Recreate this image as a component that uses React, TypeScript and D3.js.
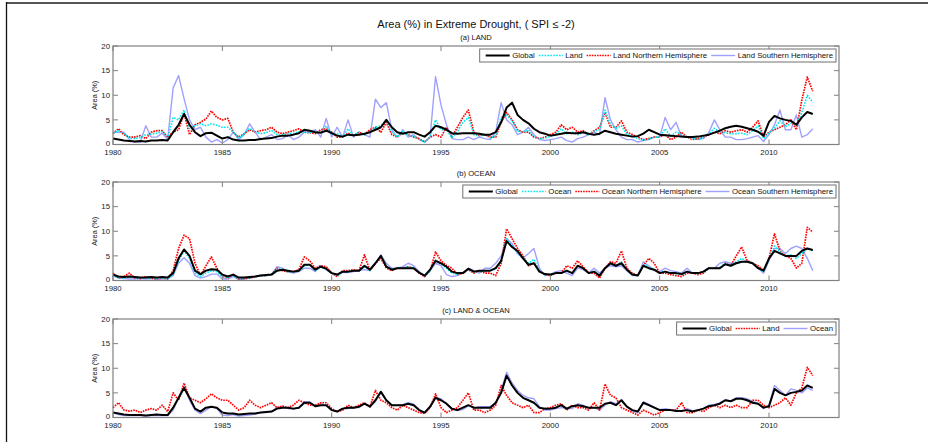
import * as d3 from "d3";
import React, { useEffect, useRef } from "react";

// quarterly samples, 1980.0 .. 2012.0
const startYear = 1980;
const stepsPerYear = 4;
const yearTicks = [1980, 1985, 1990, 1995, 2000, 2005, 2010];
const areaTicks = [0, 5, 10, 15, 20];

// (a) LAND
const landGlobal = [
  1.2, 1.0, 0.8, 0.7, 0.6, 0.7, 0.6, 0.8, 0.8, 0.9, 0.8, 2.5, 4.0, 6.2, 4.0, 2.5,
  1.7, 2.3, 2.4, 1.8, 1.2, 1.5, 1.0, 0.8, 0.8, 0.9, 0.9, 1.1, 1.2, 1.3, 1.6, 1.8,
  1.8, 2.0, 2.3, 3.0, 2.8, 2.5, 2.4, 2.8, 2.3, 1.8, 1.6, 2.0, 1.9, 2.0, 2.2, 2.5,
  3.0, 3.5, 5.0, 3.5, 2.5, 2.2, 2.5, 2.5, 2.0, 1.6, 2.5, 3.8, 3.5, 3.0, 2.3, 2.2,
  2.3, 2.3, 2.3, 2.2, 2.0, 2.0, 2.5, 4.5, 7.5, 8.5, 6.0, 5.0, 4.3, 3.2, 2.5, 2.2,
  1.8, 2.0, 2.2, 2.4, 2.3, 2.3, 2.5, 2.2, 2.0, 2.2, 2.8, 2.5, 2.2, 2.0, 1.8, 1.6,
  1.7, 2.2, 3.0, 2.5, 2.0, 1.9, 1.8, 1.7, 1.6, 1.5, 1.5, 1.6, 1.8, 2.0, 2.4, 2.8,
  3.3, 3.6, 3.8, 3.6, 3.3, 3.0, 2.6, 1.8, 4.6, 5.8, 5.3, 5.0, 4.8, 4.0, 5.5, 6.6,
  6.2,
];
const landAll = [
  2.3, 2.8, 2.2, 1.3, 1.2, 1.4, 2.0, 2.1, 2.3, 2.6, 1.3, 5.5, 5.0, 7.0, 3.2, 3.8,
  4.2, 3.8, 4.2, 3.9, 3.5, 3.5, 2.5, 1.3, 2.1, 3.3, 2.5, 2.2, 2.4, 2.9, 2.0, 1.9,
  2.3, 2.2, 2.6, 2.5, 2.4, 2.5, 2.5, 3.8, 2.1, 2.2, 1.5, 3.2, 1.7, 2.5, 2.0, 2.5,
  3.5, 3.8, 5.0, 2.5, 1.5, 2.7, 1.8, 1.7, 1.1, 0.5, 1.5, 5.0, 3.0, 3.0, 1.4, 2.6,
  4.5, 5.5, 2.0, 1.7, 2.0, 1.3, 1.8, 5.5, 6.0, 4.8, 2.7, 2.5, 3.0, 1.7, 1.1, 1.3,
  1.6, 2.0, 3.2, 2.2, 2.5, 2.0, 2.4, 2.0, 2.7, 3.0, 7.0, 4.0, 3.3, 3.8, 2.0, 1.7,
  1.2, 0.9, 1.1, 1.5, 1.5, 3.2, 1.7, 2.5, 2.1, 1.5, 1.2, 1.1, 1.4, 2.2, 3.3, 2.5,
  2.4, 2.2, 2.2, 2.3, 2.0, 2.8, 3.8, 1.2, 2.3, 3.4, 4.8, 3.6, 4.3, 4.0, 6.5, 10.0,
  8.6,
];
const landNorth = [
  2.2, 3.2, 2.0, 1.5, 1.5, 1.8, 1.2, 2.5, 2.8, 2.8, 1.5, 2.5, 3.0, 6.3, 2.0, 4.0,
  4.5, 5.2, 6.8, 5.5, 5.0, 5.3, 2.5, 1.5, 2.2, 3.0, 2.5, 2.8, 3.0, 3.5, 2.5, 2.2,
  2.5, 2.8, 3.2, 2.5, 2.4, 2.2, 3.0, 3.2, 2.5, 1.5, 1.5, 2.3, 1.8, 2.5, 2.0, 3.0,
  3.5, 2.5, 4.5, 2.0, 1.5, 2.5, 2.0, 1.5, 1.2, 0.5, 1.5, 2.0, 1.5, 3.5, 1.5, 3.5,
  5.5, 7.0, 2.5, 1.8, 2.0, 1.5, 1.5, 4.5, 6.5, 5.0, 3.0, 2.5, 2.5, 1.5, 1.2, 1.5,
  2.0, 2.5, 4.0, 3.0, 3.5, 2.5, 2.8, 2.0, 2.8, 3.5, 6.5, 3.5, 3.5, 4.8, 2.5, 2.0,
  1.5, 1.0, 1.2, 1.5, 1.5, 2.0, 1.0, 1.5, 2.5, 1.5, 1.0, 1.2, 1.5, 2.0, 2.5, 2.2,
  2.8, 2.5, 2.8, 3.0, 2.5, 3.5, 4.8, 1.5, 2.5, 3.0, 3.5, 4.0, 5.0, 3.0, 9.0, 13.7,
  10.8,
];
const landSouth = [
  2.5, 2.5, 2.5, 1.0, 0.5, 0.5, 3.8, 1.5, 1.5, 2.3, 1.0, 11.5, 14.0, 9.3, 5.0, 3.0,
  3.5, 1.5, 0.5, 1.0, 0.3, 1.0, 2.5, 1.0, 2.0, 4.2, 2.5, 1.0, 1.5, 2.0, 1.0, 1.2,
  2.0, 1.0, 1.5, 2.5, 2.5, 3.0, 1.5, 5.3, 1.5, 3.5, 1.5, 5.0, 1.5, 2.5, 2.0, 1.5,
  9.2, 7.5, 8.5, 3.0, 1.5, 3.0, 1.5, 2.0, 1.0, 0.5, 1.5, 13.8, 8.0, 4.0, 1.2, 1.0,
  1.0, 1.5, 1.0, 1.5, 1.2, 1.0, 2.5, 8.5, 5.0, 4.0, 2.0, 2.5, 3.5, 2.0, 1.0, 0.8,
  1.0, 1.2, 1.5, 0.8, 0.5, 1.2, 1.5, 2.0, 2.5, 2.0, 9.5, 5.0, 3.0, 1.5, 1.0, 1.0,
  0.5, 0.8, 1.0, 1.5, 1.5, 5.5, 3.0, 4.5, 1.5, 1.5, 1.5, 1.0, 1.2, 2.5, 5.0, 3.0,
  1.5, 1.5, 1.0, 1.0, 1.2, 1.5, 1.8, 0.6, 2.0, 4.0, 7.0, 3.0, 3.0, 6.0, 1.5, 2.0,
  3.2,
];

// (b) OCEAN
const oceanGlobal = [
  1.2, 0.8, 0.7, 0.8, 0.7, 0.6, 0.6, 0.7, 0.6, 0.7, 0.6, 1.5, 4.5, 6.3, 5.0, 2.0,
  1.3, 2.0, 2.3, 2.2, 1.2, 0.8, 1.2, 0.6, 0.6, 0.7, 0.8, 1.0, 1.1, 1.2, 2.0, 2.2,
  2.0, 1.8, 2.0, 3.2, 3.2, 2.2, 2.8, 2.4, 1.5, 1.2, 1.8, 1.8, 2.0, 2.0, 3.0, 2.2,
  3.5, 5.0, 2.8, 2.2, 2.5, 2.5, 2.5, 2.5, 1.6, 1.0, 2.2, 4.0, 3.5, 2.8, 1.8, 1.5,
  1.5, 2.4, 1.8, 2.0, 2.0, 2.0, 2.5, 4.0, 8.0, 6.8, 6.0, 4.5, 3.2, 3.5, 1.8, 1.3,
  1.2, 1.5, 1.5, 2.0, 1.5, 3.0, 2.5, 1.5, 1.8, 1.0, 2.5, 3.5, 3.0, 3.5, 2.2, 1.2,
  1.0, 3.0, 2.5, 2.2, 1.5, 1.8, 1.5, 1.5, 1.3, 1.8, 1.5, 1.5, 1.8, 2.5, 2.5, 2.5,
  3.3, 3.0, 3.5, 3.8, 3.8, 3.5, 2.5, 2.0, 4.5, 6.0, 5.5, 5.0, 5.0, 5.0, 6.0, 6.5,
  6.2,
];
const oceanAll = [
  1.0, 0.6, 0.5, 0.7, 0.5, 0.5, 0.5, 0.5, 0.4, 0.5, 0.4, 1.2, 4.0, 6.0, 4.5, 1.5,
  0.8, 1.5, 2.0, 1.8, 0.8, 0.6, 1.0, 0.4, 0.4, 0.6, 0.8, 1.0, 1.0, 1.2, 2.3, 2.2,
  1.8, 1.7, 2.0, 3.0, 3.2, 2.0, 2.8, 2.3, 1.5, 1.0, 1.7, 1.8, 2.0, 2.0, 2.8, 2.0,
  3.5, 5.0, 2.8, 2.2, 2.5, 2.5, 2.8, 2.6, 1.6, 0.9, 2.0, 4.2, 3.3, 2.5, 1.5, 1.2,
  1.5, 2.3, 1.7, 1.8, 2.0, 2.0, 2.3, 4.0, 8.5, 7.0, 5.5, 4.5, 3.5, 4.3, 2.0, 1.2,
  1.1, 1.5, 1.6, 2.0, 1.5, 3.0, 2.5, 1.5, 1.8, 1.0, 2.5, 3.3, 3.0, 3.8, 2.2, 1.2,
  1.0, 3.2, 2.8, 2.2, 1.6, 1.8, 1.5, 1.4, 1.2, 1.8, 1.5, 1.4, 1.7, 2.5, 2.5, 2.7,
  3.4, 3.1, 3.8, 4.5, 3.8, 3.5, 2.6, 1.8, 4.3, 7.0, 5.8, 5.0, 5.2, 4.5, 5.5, 6.5,
  6.0,
];
const oceanNorth = [
  1.5, 0.5, 0.8, 1.5, 0.5, 0.4, 0.8, 0.5, 0.3, 0.5, 0.3, 2.0, 6.5, 9.2, 8.5, 3.5,
  1.0, 3.0, 4.8, 2.5, 0.8, 0.5, 1.2, 0.3, 0.4, 0.5, 0.8, 1.0, 1.0, 1.2, 2.5, 2.0,
  1.8, 1.8, 2.2, 4.8, 4.0, 2.5, 3.0, 2.8, 1.5, 0.8, 2.0, 2.0, 2.2, 2.0, 5.2, 2.0,
  3.5, 4.5, 2.5, 2.0, 2.5, 2.5, 2.8, 2.5, 1.5, 0.8, 2.0, 5.8, 4.0, 3.0, 2.5, 1.2,
  1.5, 2.2, 1.5, 2.0, 1.5, 1.5, 1.0, 3.5, 10.5, 8.5, 6.5, 5.0, 3.0, 3.5, 2.0, 1.2,
  1.0, 1.5, 1.5, 3.0, 2.5, 4.0, 2.8, 1.5, 1.5, 0.5, 2.5, 3.8, 3.5, 6.0, 2.5, 1.5,
  1.0, 3.0, 4.5, 3.5, 1.5, 1.5, 1.2, 1.0, 0.8, 1.5, 1.5, 1.2, 1.5, 2.5, 2.5, 2.5,
  3.5, 3.0, 5.0, 6.8, 4.0, 3.5, 3.0, 2.0, 4.5, 9.5, 6.0, 5.0, 4.5, 2.5, 3.5, 10.8,
  9.8,
];
const oceanSouth = [
  1.0, 0.5, 0.4, 0.3, 0.3, 0.4, 0.3, 0.4, 0.3, 0.3, 0.4, 1.0, 3.5, 4.6, 3.5, 1.0,
  0.5, 0.8, 1.3, 1.3, 0.3, 0.3, 0.8, 0.2, 0.3, 0.5, 0.7, 1.0, 1.0, 1.2, 2.8, 2.5,
  1.8, 1.5, 1.8, 2.5, 2.5, 1.8, 3.0, 2.2, 1.5, 1.2, 1.6, 1.6, 1.8, 2.0, 2.2, 2.0,
  3.5, 5.2, 3.5, 2.5, 2.5, 2.8, 3.5, 3.0, 1.8, 0.8, 2.0, 3.5, 3.0, 1.2, 0.8, 1.0,
  1.5, 2.5, 2.0, 1.5, 2.5, 2.5, 3.5, 5.0, 8.5, 7.5, 5.5, 4.5, 5.5, 6.5, 2.5, 1.0,
  1.2, 1.8, 2.0, 1.5, 1.0, 2.5, 2.2, 1.5, 2.5, 1.5, 2.5, 3.0, 2.8, 3.0, 2.0, 1.0,
  1.0, 3.8, 3.0, 2.0, 1.8, 2.5, 2.0, 1.8, 1.5, 2.5, 1.5, 1.5, 1.8, 2.5, 2.5, 3.5,
  3.8, 3.5, 3.5, 3.8, 3.8, 3.5, 2.5, 1.5, 4.0, 6.5, 6.5, 5.5, 6.5, 7.0, 6.5, 4.5,
  2.0,
];

// (c) LAND & OCEAN
const bothGlobal = [
  1.0, 0.8, 0.6, 0.5, 0.5, 0.5, 0.4, 0.5, 0.6, 0.5, 0.5, 2.0, 4.0, 6.0, 4.0, 1.8,
  1.2, 2.0, 2.2, 2.0, 1.0, 0.8, 0.8, 0.6, 0.7, 0.8, 0.8, 1.0, 1.1, 1.2, 1.8, 2.0,
  2.0, 1.8, 2.0, 3.0, 3.0, 2.3, 2.5, 2.5, 1.5, 1.2, 1.8, 2.0, 2.0, 2.2, 2.8, 2.2,
  3.5, 5.2, 3.5, 2.5, 2.5, 2.5, 2.8, 2.5, 1.5, 1.0, 2.2, 4.0, 3.5, 2.8, 1.8, 1.5,
  2.0, 2.5, 2.0, 2.0, 2.0, 2.0, 3.0, 5.0, 8.5, 6.5, 5.0, 4.0, 3.5, 3.0, 2.0, 1.8,
  1.8, 2.0, 2.5, 1.8, 2.3, 2.5, 2.3, 2.0, 2.0, 2.0, 2.8, 3.0, 2.5, 3.5, 2.2, 1.5,
  1.2, 3.0, 2.5, 2.0, 1.5, 1.5, 1.5, 1.3, 1.3, 1.5, 1.2, 1.5, 1.8, 2.3, 2.5, 2.8,
  3.5, 3.3, 3.8, 3.8, 3.5, 3.0, 2.8, 2.0, 2.3, 5.8, 5.0, 4.5, 5.0, 5.2, 5.5, 6.5,
  6.0,
];
const bothLand = [
  2.0, 3.0, 1.5, 1.3, 1.5, 1.0, 1.5, 1.8, 1.5, 2.5, 1.2, 5.0, 3.5, 7.0, 4.0, 3.5,
  3.0, 3.8, 4.8, 4.0, 3.5, 3.5, 2.5, 1.5, 2.0, 3.5, 2.5, 2.0, 2.5, 3.0, 2.0, 2.3,
  2.0, 2.5, 3.5, 3.0, 2.5, 2.5, 3.0, 3.0, 1.8, 1.2, 1.5, 2.5, 2.0, 2.5, 3.0, 2.2,
  5.5, 3.5, 3.0, 2.0, 1.5, 2.5, 2.0, 1.5, 1.0, 0.8, 2.0, 4.8, 2.0, 1.0, 1.5, 2.0,
  3.5, 5.0, 1.5, 1.5, 1.0, 1.5, 2.5, 6.5, 4.5, 3.0, 2.5, 2.0, 2.5, 1.0, 1.0, 1.8,
  2.0, 2.5, 2.8, 1.5, 2.5, 2.0, 2.0, 1.5, 3.0, 1.5, 6.8, 4.5, 4.0, 2.0, 1.5, 1.0,
  0.5, 1.5, 1.0, 0.5, 1.0, 1.5, 1.5, 1.5, 3.0, 1.0, 1.0, 1.5, 1.2, 2.0, 2.5, 2.0,
  2.5, 2.0, 2.5, 2.0, 2.0, 3.5, 3.5, 2.5, 2.0, 2.5, 3.0, 4.0, 2.5, 5.0, 6.0, 10.2,
  8.5,
];
const bothOcean = [
  1.0, 0.6, 0.4, 0.4, 0.4, 0.4, 0.3, 0.4, 0.4, 0.4, 0.4, 1.5, 4.0, 6.3, 3.5, 1.5,
  0.8, 1.5, 2.2, 1.8, 0.5, 0.4, 0.6, 0.3, 0.4, 0.5, 0.7, 1.0, 1.0, 1.2, 2.0, 2.2,
  1.8, 1.7, 2.0, 3.2, 3.2, 2.2, 2.8, 2.4, 1.5, 1.2, 1.8, 1.8, 2.0, 2.0, 2.8, 2.2,
  3.2, 5.3, 3.5, 2.5, 2.5, 2.6, 3.0, 2.7, 1.6, 1.0, 2.2, 4.2, 3.8, 2.8, 1.6, 1.4,
  1.6, 2.4, 1.9, 2.2, 2.2, 2.2, 3.0, 5.5, 9.2, 7.0, 5.5, 4.5, 4.0, 3.8, 2.2, 1.5,
  1.5, 1.8, 2.0, 1.8, 1.8, 2.8, 2.5, 1.8, 2.0, 1.5, 2.5, 3.2, 2.8, 3.6, 2.2, 1.3,
  1.0, 3.2, 2.7, 2.1, 1.6, 1.8, 1.6, 1.5, 1.3, 1.8, 1.4, 1.5, 1.8, 2.5, 2.6, 3.0,
  3.6, 3.3, 4.0, 4.0, 3.8, 3.3, 2.8, 1.8, 2.5, 6.5, 5.5, 4.5, 5.8, 5.5, 5.0, 6.0,
  5.5,
];

const FONT = "'Liberation Sans', Arial, Helvetica, sans-serif";

const styles: Record<string, { color: string; width: number; dash: string | null }> = {
  global: { color: "#000000", width: 2, dash: null },
  mean: { color: "#00e8f0", width: 1.6, dash: "1.6,1.3" },
  north: { color: "#ff0000", width: 1.7, dash: "1.6,1" },
  south: { color: "#a0a0ff", width: 1.4, dash: null },
};

type Entry = { name: string; kind: string; values: number[] };

const panels: { title: string; top: number; entries: Entry[] }[] = [
  {
    title: "(a) LAND",
    top: 46,
    entries: [
      { name: "Global", kind: "global", values: landGlobal },
      { name: "Land", kind: "mean", values: landAll },
      { name: "Land Northern Hemisphere", kind: "north", values: landNorth },
      { name: "Land Southern Hemisphere", kind: "south", values: landSouth },
    ],
  },
  {
    title: "(b) OCEAN",
    top: 182,
    entries: [
      { name: "Global", kind: "global", values: oceanGlobal },
      { name: "Ocean", kind: "mean", values: oceanAll },
      { name: "Ocean Northern Hemisphere", kind: "north", values: oceanNorth },
      { name: "Ocean Southern Hemisphere", kind: "south", values: oceanSouth },
    ],
  },
  {
    title: "(c) LAND & OCEAN",
    top: 319,
    entries: [
      { name: "Global", kind: "global", values: bothGlobal },
      { name: "Land", kind: "north", values: bothLand },
      { name: "Ocean", kind: "south", values: bothOcean },
    ],
  },
];

function Chart() {
  const ref = useRef<SVGSVGElement>(null);

  useEffect(() => {
    const svg = d3.select(ref.current);
    svg.selectAll("*").remove();

    const left = 113;
    const right = 839;
    const plotH = 98.5;
    const axisColor = "#808080";

    const x = d3.scaleLinear().domain([1980, 2013.2]).range([left, right]);

    // frame of the figure
    svg.append("line").attr("x1", 6).attr("x2", 928).attr("y1", 3).attr("y2", 3)
      .attr("stroke", "#555").attr("stroke-width", 2);
    svg.append("line").attr("x1", 6.5).attr("x2", 6.5).attr("y1", 2).attr("y2", 442)
      .attr("stroke", "#111").attr("stroke-width", 1.3);

    svg.append("text")
      .attr("x", (left + right) / 2).attr("y", 28)
      .attr("text-anchor", "middle")
      .style("font-family", FONT).style("font-size", "11px").attr("fill", "#111")
      .text("Area (%) in Extreme Drought, ( SPI \u2264 -2)");

    panels.forEach((p) => {
      const top = p.top;
      const bottom = top + plotH;
      const y = d3.scaleLinear().domain([0, 20]).range([bottom, top]);
      const g = svg.append("g");

      g.append("text")
        .attr("x", (left + right) / 2).attr("y", top - 6.5)
        .attr("text-anchor", "middle")
        .style("font-family", FONT).style("font-size", "7.6px").attr("fill", "#111")
        .text(p.title);

      // lines, drawn in reverse legend order so Global ends up on top
      const line = d3.line<number>()
        .x((_, i) => x(startYear + i / stepsPerYear))
        .y((d) => y(d));

      [...p.entries].reverse().forEach((e) => {
        const s = styles[e.kind];
        g.append("path")
          .datum(e.values)
          .attr("d", line)
          .attr("fill", "none")
          .attr("stroke", s.color)
          .attr("stroke-width", s.width)
          .attr("stroke-dasharray", s.dash)
          .attr("stroke-linejoin", "round");
      });

      // box + ticks
      g.append("rect")
        .attr("x", left).attr("y", top)
        .attr("width", right - left).attr("height", plotH)
        .attr("fill", "none").attr("stroke", axisColor).attr("stroke-width", 1.2);

      yearTicks.forEach((t) => {
        g.append("line").attr("x1", x(t)).attr("x2", x(t)).attr("y1", bottom).attr("y2", bottom - 5)
          .attr("stroke", axisColor);
        g.append("line").attr("x1", x(t)).attr("x2", x(t)).attr("y1", top).attr("y2", top + 5)
          .attr("stroke", axisColor);
        g.append("text")
          .attr("x", x(t)).attr("y", bottom + 10.5)
          .attr("text-anchor", "middle")
          .style("font-family", FONT).style("font-size", "7.8px").attr("fill", "#222")
          .text(t);
      });

      areaTicks.forEach((t) => {
        g.append("line").attr("x1", left).attr("x2", left + 5).attr("y1", y(t)).attr("y2", y(t))
          .attr("stroke", axisColor);
        g.append("line").attr("x1", right).attr("x2", right - 5).attr("y1", y(t)).attr("y2", y(t))
          .attr("stroke", axisColor);
        g.append("text")
          .attr("x", left - 3).attr("y", y(t) + (t === 0 ? 1.6 : 2.8))
          .attr("text-anchor", "end")
          .style("font-family", FONT).style("font-size", "7.8px").attr("fill", "#222")
          .text(t);
      });

      g.append("text")
        .attr("transform", `translate(${left - 16},${(top + bottom) / 2}) rotate(-90)`)
        .attr("text-anchor", "middle")
        .style("font-family", FONT).style("font-size", "7.4px").attr("fill", "#222")
        .text("Area (%)");

      // legend, right aligned inside the box
      const lg = g.append("g");
      const box = lg.append("rect");
      let cx = 6;
      const ly = top + 9.5;
      p.entries.forEach((e, i) => {
        const s = styles[e.kind];
        lg.append("line")
          .attr("x1", cx).attr("x2", cx + 24).attr("y1", ly).attr("y2", ly)
          .attr("stroke", s.color).attr("stroke-width", s.width)
          .attr("stroke-dasharray", s.dash);
        cx += 26.5;
        const txt = lg.append("text")
          .attr("x", cx).attr("y", ly + 2.7)
          .style("font-family", FONT).style("font-size", "7.8px").attr("fill", "#111")
          .text(e.name);
        const w = (txt.node() as SVGTextElement).getComputedTextLength();
        cx += w + (i < p.entries.length - 1 ? 4 : 3);
      });
      const boxRight = right - 3;
      const boxLeft = boxRight - cx;
      box.attr("x", 0).attr("y", top + 3).attr("width", cx).attr("height", 13)
        .attr("fill", "#fff").attr("stroke", "#707070").attr("stroke-width", 1);
      lg.attr("transform", `translate(${boxLeft},0)`);
    });
  }, []);

  return (
    <svg
      ref={ref}
      width={928}
      height={442}
      style={{ position: "absolute", left: 0, top: 0, background: "#fff" }}
    />
  );
}

export default function App() {
  return <Chart />;
}
